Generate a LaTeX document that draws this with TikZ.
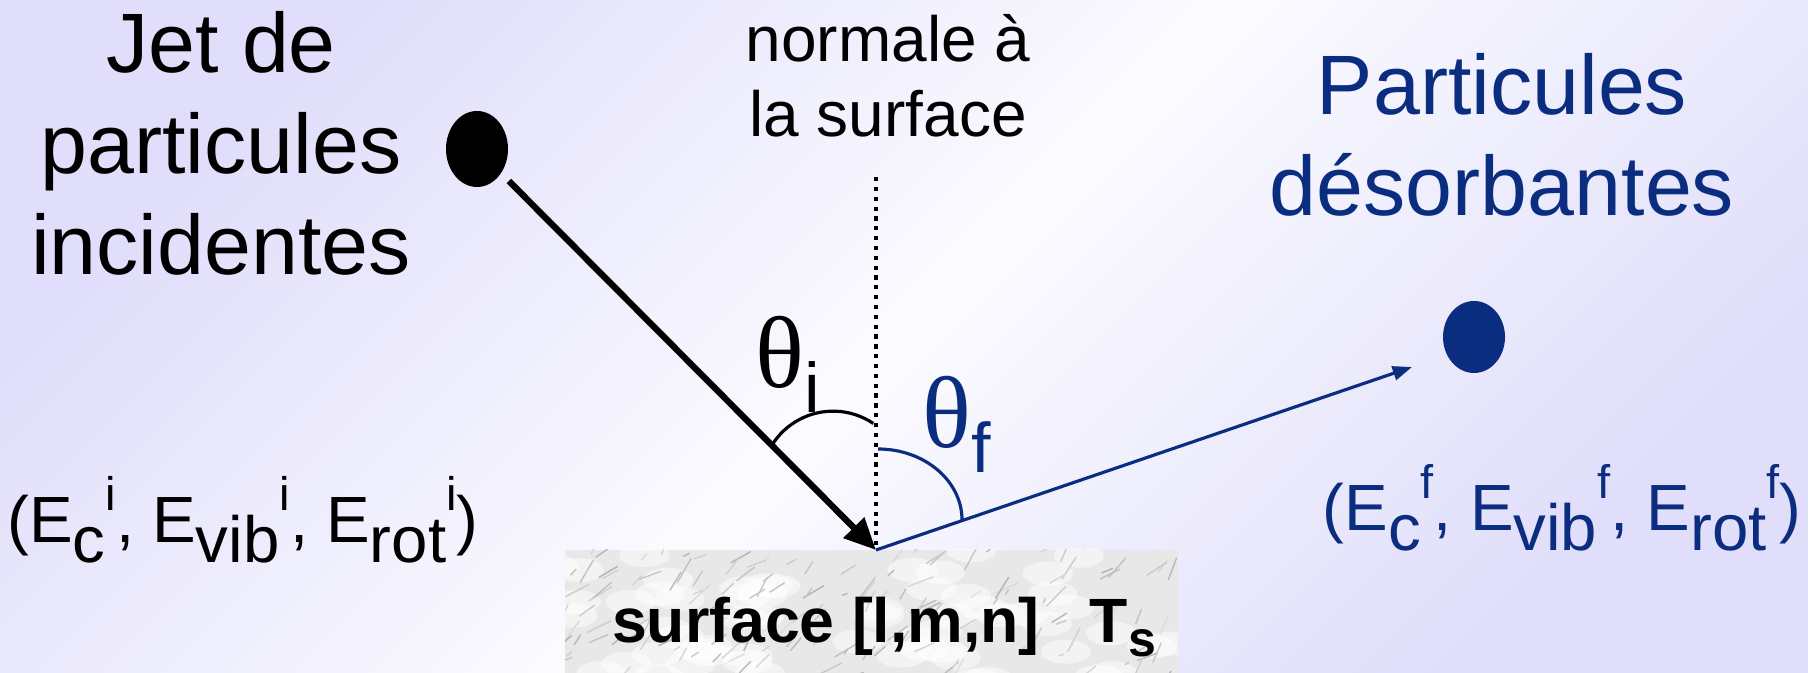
\documentclass[tikz,border=0pt]{standalone}
\usepackage{fontspec}
\setmainfont{Liberation Sans}
\newfontfamily\thetafont{Liberation Serif}
\usepackage{graphicx}
\usetikzlibrary{arrows.meta, shapes.geometric}
\definecolor{desblue}{RGB}{11, 45, 128}
\definecolor{bglav}{RGB}{224, 222, 250}
\definecolor{bgwhite}{RGB}{251, 251, 255}
\newcommand{\idxlo}[1]{\raisebox{-0.3em}{#1}}
\newcommand{\idxhi}[1]{\raisebox{0.5em}{\scalebox{0.72}{#1}}}
\newcommand{\angsub}[1]{\raisebox{-7pt}{\fontsize{20pt}{22pt}\rmfamily #1}}

\tikzset{
  partdot/.style={ellipse, inner sep=0pt, minimum width=0.62cm},
  bigtitle/.style={align=center, inner sep=0pt, anchor=north, font=\fontsize{24pt}{28.7pt}\selectfont},
  energy/.style={inner sep=0pt, anchor=base, font=\fontsize{18.6pt}{22pt}\selectfont},
  anglbl/.style={inner sep=0pt, anchor=base west, font=\fontsize{29pt}{32pt}\thetafont},
}

\begin{document}
\begin{tikzpicture}
  \useasboundingbox (0,0) rectangle (18.08,6.73);
  \shade[top color=bglav, bottom color=bglav, middle color=bgwhite, shading angle=45] (0,0) rectangle (18.08,6.73);

  % marble surface
  \begin{scope}
    \clip (5.65,0) rectangle (11.78,1.23);
    \fill[black!9] (5.65,0) rectangle (11.78,1.23);
    \pgfmathsetseed{11}
    \foreach \k in {1,...,60}{
      \pgfmathsetmacro{\sx}{5.5+6.4*rnd}
      \pgfmathsetmacro{\sy}{-0.1+1.4*rnd}
      \fill[white, opacity=0.5] (\sx,\sy) ellipse[x radius=0.25, y radius=0.12];
    }
    \foreach \k in {1,...,160}{
      \pgfmathsetmacro{\sx}{5.5+6.4*rnd}
      \pgfmathsetmacro{\sy}{-0.1+1.4*rnd}
      \pgfmathsetmacro{\sa}{20+50*rnd}
      \pgfmathsetmacro{\sl}{0.05+0.25*rnd}
      \pgfmathsetmacro{\sg}{12+18*rnd}
      \draw[black!\sg, line width=0.4pt] (\sx,\sy) -- ++(\sa:\sl);
    }
  \end{scope}
  \node[inner sep=0pt, anchor=base, font=\fontsize{17.8pt}{22pt}\selectfont\bfseries] (surftxt) at (8.84,0.30)
    {surface [l,m,n]\hspace{0.8em}T\raisebox{-0.22em}{\scalebox{0.8}{s}}};

  % titles
  \node[bigtitle] (jettxt) at (2.21,6.62) {Jet de\\particules\\incidentes};
  \node[bigtitle, text=desblue] (destxt) at (15.02,6.205) {Particules\\désorbantes};
  \node[align=center, inner sep=0pt, anchor=north, font=\fontsize{18.2pt}{21.3pt}\selectfont] (normtxt) at (8.88,6.595) {normale à\\la surface};

  % particles
  \node[partdot, fill=black, minimum height=0.76cm] (jet) at (4.77,5.24) {};
  \node[partdot, fill=desblue, minimum height=0.72cm] (desorb) at (14.74,3.36) {};
  \coordinate (impact) at (8.76,1.23);
  \coordinate (ntop) at (8.76,4.96);
  \coordinate (outtip) at (14.12,3.06);

  \draw[line width=1.2pt, dash pattern=on 1.2pt off 1.6pt] (ntop) -- (impact);
  \draw[line width=1.8pt, shorten <=3pt, -{Triangle[length=9pt,width=8pt]}] (jet) -- (impact);
  \draw[desblue, line width=0.9pt, -{Triangle[length=5.5pt,width=4pt]}] (impact) -- (outtip);

  % angles
  \draw[line width=0.9pt] (7.72,2.28) arc[start angle=148, end angle=56, radius=0.72];
  \draw[desblue, line width=0.9pt] (8.78,2.24) arc[start angle=90, end angle=0, x radius=0.84, y radius=0.71];
  \node[anglbl] (thi) at (7.55,2.85) {θ\angsub{i}};
  \node[anglbl, text=desblue] (thf) at (9.22,2.25) {θ\angsub{f}};

  % energies
  \node[energy] (ein) at (2.43,1.30) {(E\idxlo{c}\idxhi{i}, E\idxlo{vib}\idxhi{i}, E\idxlo{rot}\idxhi{i})};
  \node[energy, text=desblue] (eout) at (15.62,1.42) {(E\idxlo{c}\idxhi{f}, E\idxlo{vib}\idxhi{f}, E\idxlo{rot}\idxhi{f})};
\end{tikzpicture}
\end{document}
